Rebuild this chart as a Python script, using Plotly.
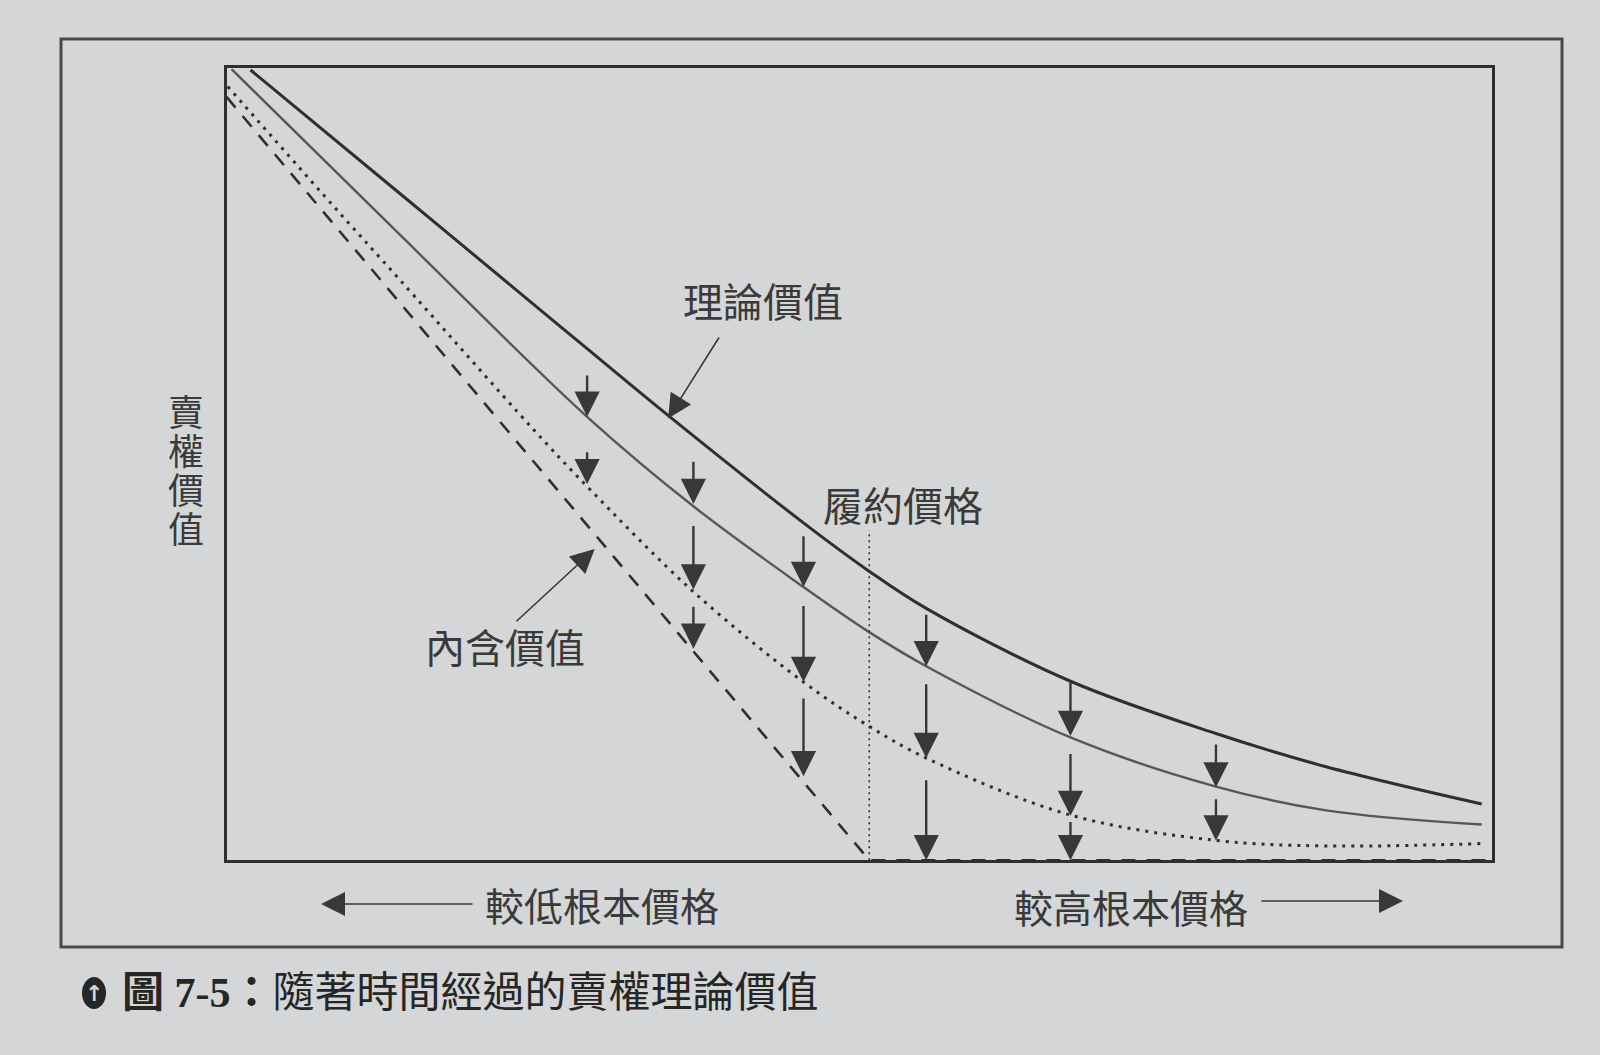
import plotly.graph_objects as go

# put value vs underlying price, both on a 0-100 scale
theo_x = [1.9, 13.7, 24.2, 28.5, 34.8, 45.6, 50.7, 55.3, 66.7, 78.2, 86.9, 99.2]
theo_y = [99.8, 84.2, 70.3, 64.6, 56.3, 42.6, 36.6, 31.8, 22.6, 16.0, 11.8, 7.1]

mid_x = [0.4, 13.7, 28.5, 36.9, 45.6, 50.7, 55.3, 66.7, 78.2, 86.9, 99.2]
mid_y = [99.9, 79.0, 56.0, 44.7, 34.5, 28.9, 24.5, 15.5, 9.3, 6.3, 4.5]

near_x = [0.1, 8.4, 13.7, 24.2, 28.5, 36.9, 45.6, 50.7, 55.3, 66.7, 78.2, 86.9, 99.2]
near_y = [97.7, 82.7, 73.3, 54.5, 47.2, 33.9, 22.5, 17.0, 12.9, 5.7, 2.5, 1.8, 2.1]

intr_x = [0, 50.8, 100]
intr_y = [96.4, 0, 0]

strike = 50.8
strike_top = 41.7

# time-decay arrows: x, value at tail, value at tip
arrow_x = [28.5, 28.5, 36.9, 36.9, 36.9, 45.6, 45.6, 45.6,
           55.3, 55.3, 55.3, 66.7, 66.7, 66.7, 78.2, 78.2]
arrow_from = [61.4, 51.7, 50.5, 42.4, 32.2, 41.1, 32.3, 20.6,
              31.2, 22.4, 10.3, 22.6, 13.6, 5.0, 14.8, 7.9]
arrow_to = [56.0, 47.5, 45.0, 34.2, 26.7, 34.5, 22.5, 10.6,
            24.5, 12.9, 0.0, 15.7, 5.6, 0.0, 9.2, 2.5]

W, H = 1600, 1055
PAPER = "#d4d6d7"
INK = "#2f2f2f"
FONT = "Noto Sans CJK TC"


def px(x):
    return x / W


def py(y):
    return 1 - y / H


fig = go.Figure()
fig.add_trace(go.Scatter(x=intr_x, y=intr_y, mode="lines",
                         line=dict(color=INK, width=2.6, dash="14px,11px")))
fig.add_trace(go.Scatter(x=near_x, y=near_y, mode="lines", line_shape="spline",
                         line=dict(color=INK, width=3, dash="3px,6px")))
fig.add_trace(go.Scatter(x=mid_x, y=mid_y, mode="lines", line_shape="spline",
                         line=dict(color="#575757", width=2.4)))
fig.add_trace(go.Scatter(x=theo_x, y=theo_y, mode="lines", line_shape="spline",
                         line=dict(color=INK, width=3)))
fig.add_trace(go.Scatter(x=[strike, strike], y=[0, strike_top], mode="lines",
                         line=dict(color=INK, width=1.6, dash="2px,4px")))

anns = []
for x, y0, y1 in zip(arrow_x, arrow_from, arrow_to):
    anns.append(dict(x=x, y=y1, ax=x, ay=y0, xref="x", yref="y", axref="x", ayref="y",
                     text="", showarrow=True, arrowhead=2, arrowsize=2.1,
                     arrowwidth=2.4, arrowcolor="#383838", standoff=0))

lab = dict(family=FONT, size=40, color="#3a3a3a")
thin_arrow = dict(text="", showarrow=True, arrowhead=2, arrowsize=3.0, arrowwidth=1.6,
                  arrowcolor="#383838", standoff=0)
anns += [
    dict(x=42.4, y=70.7, xref="x", yref="y", text="理論價值", showarrow=False, font=lab),
    dict(x=34.9, y=55.8, ax=39.0, ay=66.2, xref="x", yref="y", axref="x", ayref="y",
         **thin_arrow),
    dict(x=53.5, y=45.0, xref="x", yref="y", text="履約價格", showarrow=False, font=lab),
    dict(x=22.0, y=27.0, xref="x", yref="y", text="內含價值", showarrow=False, font=lab),
    dict(x=29.1, y=39.3, ax=22.8, ay=30.0, xref="x", yref="y", axref="x", ayref="y",
         **thin_arrow),
]

# vertical y label, one character per row (tight pitch like the printed figure)
for i, ch in enumerate("賣權價值"):
    anns.append(dict(x=px(186), y=py(410 + 39 * i), xref="paper", yref="paper",
                     xanchor="center", yanchor="middle", text=ch, showarrow=False,
                     font=dict(family=FONT, size=36, color="#3a3a3a")))

anns += [
    dict(x=px(602), y=py(904), xref="paper", yref="paper", text="較低根本價格",
         xanchor="center", yanchor="middle", showarrow=False,
         font=dict(family=FONT, size=39, color="#3a3a3a")),
    dict(x=px(321), y=py(904), ax=153, ay=0, xref="paper", yref="paper", **thin_arrow),
    dict(x=px(1131), y=py(906), xref="paper", yref="paper", text="較高根本價格",
         xanchor="center", yanchor="middle", showarrow=False,
         font=dict(family=FONT, size=39, color="#3a3a3a")),
    dict(x=px(1403), y=py(901), ax=-143, ay=0, xref="paper", yref="paper", **thin_arrow),
    # caption
    dict(x=px(94), y=py(993), xref="paper", yref="paper", text="<b>↑</b>",
         xanchor="center", yanchor="middle", showarrow=False,
         font=dict(family="DejaVu Sans", size=22, color=PAPER)),
    dict(x=px(120), y=py(993), xref="paper", yref="paper", xanchor="left", yanchor="middle",
         text="<b>圖 7-5：</b>隨著時間經過的賣權理論價值", showarrow=False,
         font=dict(family="Liberation Serif, " + FONT, size=42, color="#262626")),
]

shapes = [
    dict(type="rect", xref="paper", yref="paper", x0=px(61), x1=px(1562),
         y0=py(947), y1=py(39), line=dict(color="#4a4a4a", width=3)),
    dict(type="circle", xref="paper", yref="paper", x0=px(82), x1=px(106),
         y0=py(1009), y1=py(977), fillcolor="#262626", line=dict(width=0)),
]

fig.update_layout(
    width=W, height=H,
    margin=dict(l=0, r=0, t=0, b=0),
    paper_bgcolor=PAPER, plot_bgcolor=PAPER,
    showlegend=False,
    annotations=anns, shapes=shapes,
    xaxis=dict(domain=[px(226.5), px(1491.8)], range=[0, 100], showgrid=False,
               zeroline=False, showticklabels=False, ticks="",
               showline=True, mirror=True, linecolor=INK, linewidth=2.5),
    yaxis=dict(domain=[py(860.2), py(68.4)], range=[0, 100], showgrid=False,
               zeroline=False, showticklabels=False, ticks="",
               showline=True, mirror=True, linecolor=INK, linewidth=2.5),
)

fig.write_html("out.html", config={"displayModeBar": False},
               post_script="document.body.style.margin='0px';")
